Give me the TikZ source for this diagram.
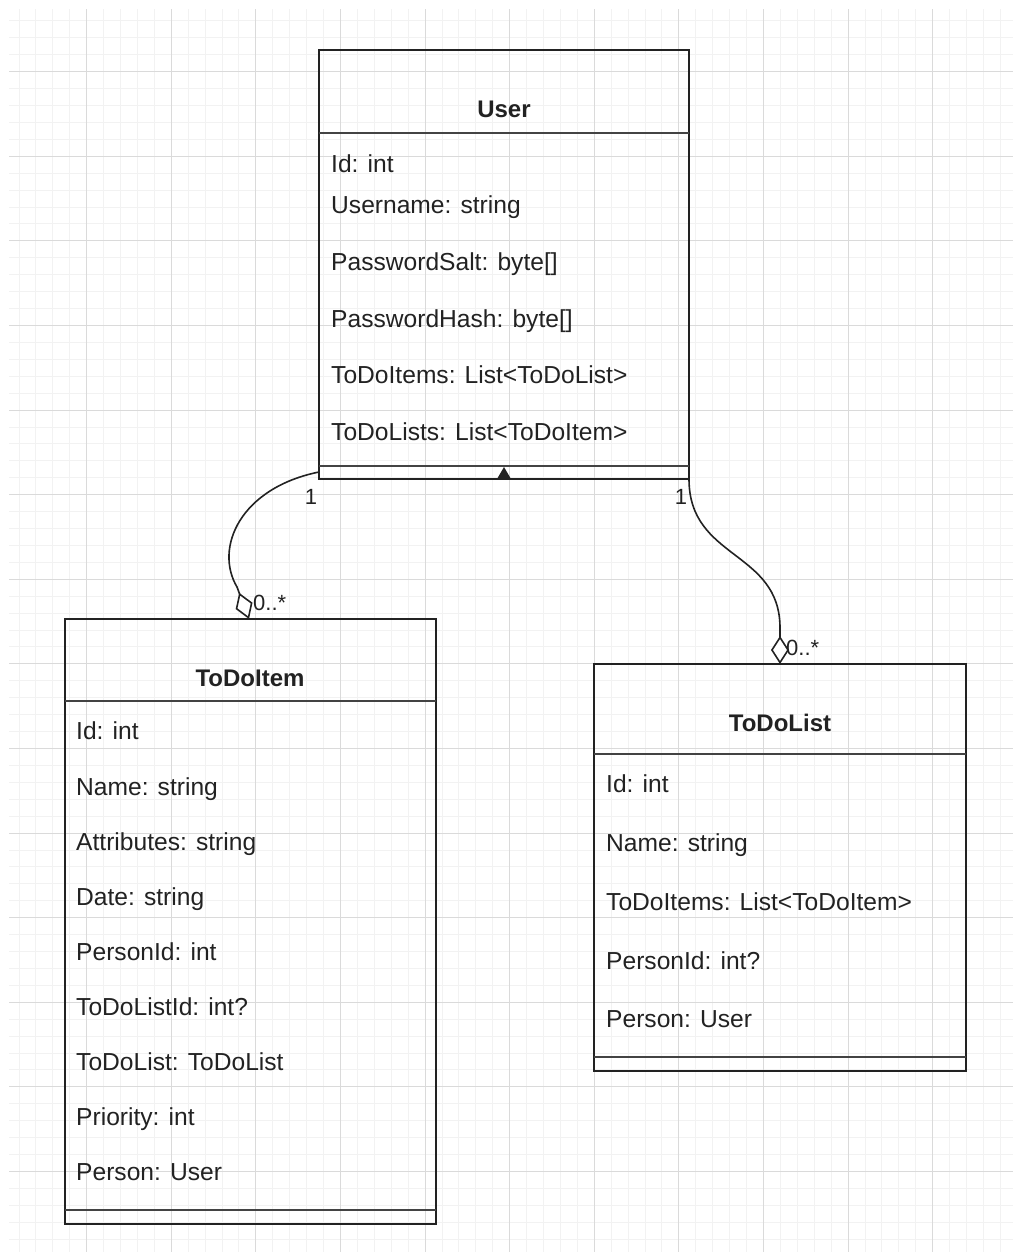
\documentclass[tikz,border=0pt]{standalone}
\usepackage{fontspec}
\setmainfont{Liberation Sans}
\usetikzlibrary{arrows.meta,calc}
\definecolor{ink}{HTML}{222222}
\definecolor{gridmajor}{HTML}{DADADA}
\definecolor{gridminor}{HTML}{F2F2F2}
\begin{document}
\begin{tikzpicture}[x=1pt,y=-1pt,
  classbox/.style={draw=ink, line width=2pt, inner sep=0pt, outer sep=0pt},
  sepline/.style={draw=ink!85, line width=2.4pt},
  attr/.style={anchor=base west, inner sep=0pt, text=ink, font=\fontsize{24.6}{28}\selectfont},
  title/.style={anchor=base, inner sep=0pt, text=ink, font=\fontsize{24}{28}\selectfont\bfseries},
  mult/.style={inner sep=0pt, text=ink, font=\fontsize{22}{26}\selectfont},
  assoc/.style={draw=ink, line width=1.6pt, -{Diamond[length=28pt,width=18pt,fill=white,line width=1.6pt]}}
]
\useasboundingbox (0,0) rectangle (1013,1258);
% background grid
\begin{scope}
\clip (9,9) rectangle (1013,1252);
\foreach \i in {-5,...,60} \draw[gridminor, line width=0.8pt] ({86.6+\i*16.92},9) -- ({86.6+\i*16.92},1252);
\foreach \i in {-5,...,72} \draw[gridminor, line width=0.8pt] (9,{71.6+\i*16.92}) -- (1013,{71.6+\i*16.92});
\foreach \i in {-1,...,12} \draw[gridmajor, line width=1pt] ({86.6+\i*84.6},9) -- ({86.6+\i*84.6},1252);
\foreach \i in {-1,...,14} \draw[gridmajor, line width=1pt] (9,{71.6+\i*84.6}) -- (1013,{71.6+\i*84.6});
\end{scope}

% User
\node[classbox, minimum width=370pt, minimum height=429pt] (user) at (504,264.5) {};
\draw[sepline] ([yshift=-83pt]user.north west) -- ([yshift=-83pt]user.north east);
\draw[sepline] ([yshift=13pt]user.south west) -- ([yshift=13pt]user.south east);
\node[title] (usertitle) at (504,117) {User};
\node[attr] (u1) at (331,172) {Id: int};
\node[attr] (u2) at (331,213) {Username: string};
\node[attr] (u3) at (331,270) {PasswordSalt: byte[]};
\node[attr] (u4) at (331,327) {PasswordHash: byte[]};
\node[attr] (u5) at (331,383) {ToDoItems: List<ToDoList>};
\node[attr] (u6) at (331,440) {ToDoLists: List<ToDoItem>};
\fill[ink] ([xshift=-7pt]user.south) -- ([xshift=7pt]user.south) -- ([yshift=12pt]user.south) -- cycle;

% ToDoItem
\node[classbox, minimum width=371pt, minimum height=605pt] (todoitem) at (250.5,921.5) {};
\draw[sepline] ([yshift=-82pt]todoitem.north west) -- ([yshift=-82pt]todoitem.north east);
\draw[sepline] ([yshift=14pt]todoitem.south west) -- ([yshift=14pt]todoitem.south east);
\node[title] (itemtitle) at (250,686) {ToDoItem};
\node[attr] (i1) at (76,739) {Id: int};
\node[attr] (i2) at (76,795) {Name: string};
\node[attr] (i3) at (76,850) {Attributes: string};
\node[attr] (i4) at (76,905) {Date: string};
\node[attr] (i5) at (76,960) {PersonId: int};
\node[attr] (i6) at (76,1015) {ToDoListId: int?};
\node[attr] (i7) at (76,1070) {ToDoList: ToDoList};
\node[attr] (i8) at (76,1125) {Priority: int};
\node[attr] (i9) at (76,1180) {Person: User};

% ToDoList
\node[classbox, minimum width=372pt, minimum height=407pt] (todolist) at (780,867.5) {};
\draw[sepline] ([yshift=-90pt]todolist.north west) -- ([yshift=-90pt]todolist.north east);
\draw[sepline] ([yshift=14pt]todolist.south west) -- ([yshift=14pt]todolist.south east);
\node[title] (listtitle) at (780,731) {ToDoList};
\node[attr] (l1) at (606,792) {Id: int};
\node[attr] (l2) at (606,851) {Name: string};
\node[attr] (l3) at (606,910) {ToDoItems: List<ToDoItem>};
\node[attr] (l4) at (606,969) {PersonId: int?};
\node[attr] (l5) at (606,1027) {Person: User};

% connectors
\coordinate (c1s) at ([yshift=7pt]user.south west);
\coordinate (c1d) at (237,587);
\coordinate (c1e) at ([xshift=-1.5pt]todoitem.north);
\draw[assoc] (c1s) .. controls (240,488) and (214,548) .. (c1d) -- (c1e);

\coordinate (c2s) at (user.south east);
\coordinate (c2d) at (780,628);
\draw[assoc] (c2s) .. controls (689,560) and (780,550) .. (c2d) -- (todolist.north);

\node[mult] (m1a) at (311,497) {1};
\node[mult, anchor=west] (m1b) at (253,603) {0..*};
\node[mult] (m2a) at (681,497) {1};
\node[mult, anchor=west] (m2b) at (786,648) {0..*};
\end{tikzpicture}
\end{document}
